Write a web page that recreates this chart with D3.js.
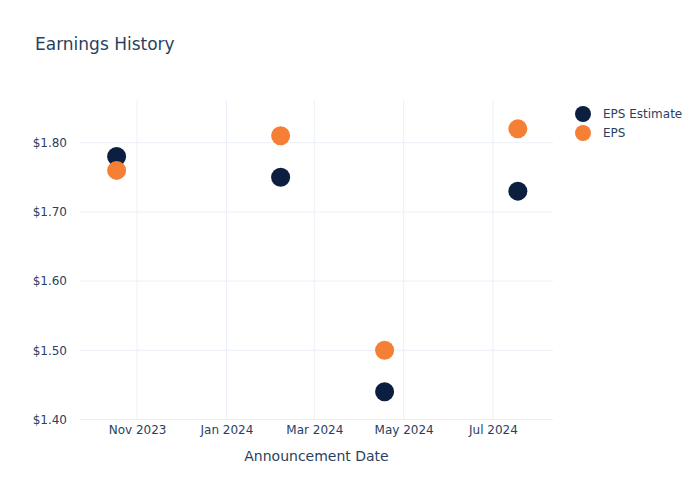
<!DOCTYPE html>
<html>
<head>
<meta charset="utf-8">
<script src="https://cdn.jsdelivr.net/npm/d3@7"></script>
<style>
  html, body { margin: 0; padding: 0; background: #fff; }
  svg { display: block; font-family: "DejaVu Sans", "Open Sans", sans-serif; }
</style>
</head>
<body>
<svg id="chart" width="700" height="500"></svg>
<script>
const dates = ["2023-10-18", "2024-02-07", "2024-04-18", "2024-07-18"];
const epsEstimate = [1.78, 1.75, 1.44, 1.73];
const eps = [1.76, 1.81, 1.50, 1.82];
const seriesNames = ["EPS Estimate", "EPS"];
const seriesColors = ["#0c1f40", "#f67f36"];
const yTicks = [1.40, 1.50, 1.60, 1.70, 1.80];
const xTicks = ["2023-11-01", "2024-01-01", "2024-03-01", "2024-05-01", "2024-07-01"];

const parse = d3.utcParse("%Y-%m-%d");
const svg = d3.select("#chart");
const margin = {left: 80, right: 147, top: 100, bottom: 80};
const W = 700, H = 500;
const textColor = "#2a3f5f";
const gridColor = "#ebf0f8";

const x = d3.scaleUtc()
  .domain([parse("2023-09-23"), parse("2024-08-11")])
  .range([margin.left, W - margin.right]);
const y = d3.scaleLinear()
  .domain([1.3993, 1.8617])
  .range([H - margin.bottom, margin.top]);

// grid
const grid = svg.append("g");
grid.selectAll("line.vx").data(xTicks).join("line")
  .attr("x1", d => x(parse(d))).attr("x2", d => x(parse(d)))
  .attr("y1", margin.top).attr("y2", H - margin.bottom)
  .attr("stroke", gridColor).attr("stroke-width", 1);
grid.selectAll("line.hy").data(yTicks).join("line")
  .attr("x1", margin.left).attr("x2", W - margin.right)
  .attr("y1", d => y(d)).attr("y2", d => y(d))
  .attr("stroke", gridColor).attr("stroke-width", 1);

// axes
const xAxis = d3.axisBottom(x)
  .tickValues(xTicks.map(parse))
  .tickFormat(d3.utcFormat("%b %Y"))
  .tickSize(0).tickPadding(5);
const gx = svg.append("g").attr("transform", `translate(0,${H - margin.bottom})`).call(xAxis);
gx.select(".domain").remove();
gx.selectAll("text").attr("fill", textColor).style("font-size", "12px")
  .style("font-family", '"DejaVu Sans", sans-serif');

const yAxis = d3.axisLeft(y)
  .tickValues(yTicks)
  .tickFormat(d => "$" + d.toFixed(2))
  .tickSize(0).tickPadding(13);
const gy = svg.append("g").attr("transform", `translate(${margin.left},0)`).call(yAxis);
gy.select(".domain").remove();
gy.selectAll("text").attr("fill", textColor).style("font-size", "12px")
  .style("font-family", '"DejaVu Sans", sans-serif');

// points
const series = [epsEstimate, eps];
series.forEach((vals, si) => {
  svg.append("g").selectAll("circle").data(vals).join("circle")
    .attr("cx", (d, i) => x(parse(dates[i])))
    .attr("cy", d => y(d))
    .attr("r", 9.5)
    .attr("fill", seriesColors[si]);
});

// title
svg.append("text").attr("x", 35).attr("y", 50)
  .attr("fill", textColor).style("font-size", "17px")
  .text("Earnings History");

// x axis title
svg.append("text").attr("x", (margin.left + W - margin.right) / 2).attr("y", 461)
  .attr("text-anchor", "middle").attr("fill", textColor).style("font-size", "14px")
  .text("Announcement Date");

// legend
const lg = svg.append("g");
seriesNames.forEach((name, i) => {
  lg.append("circle").attr("cx", 583).attr("cy", 114 + i * 19).attr("r", 8)
    .attr("fill", seriesColors[i]);
  lg.append("text").attr("x", 603).attr("y", 114 + i * 19).attr("dy", "0.35em")
    .attr("fill", textColor).style("font-size", "12px").text(name);
});
</script>
</body>
</html>
